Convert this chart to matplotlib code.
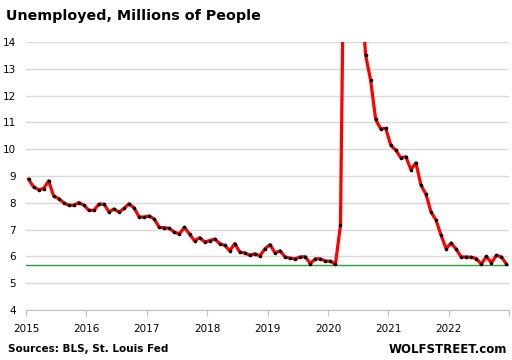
import numpy as np
import pandas as pd
import matplotlib
matplotlib.use("Agg")
import matplotlib.pyplot as plt

# Unemployed, millions, monthly Jan 2015 - Dec 2022
y2015 = [8.88, 8.59, 8.49, 8.53, 8.82, 8.25, 8.16, 8.00, 7.91, 7.91, 8.01, 7.91]
y2016 = [7.72, 7.72, 7.95, 7.95, 7.66, 7.77, 7.65, 7.79, 7.97, 7.80, 7.47, 7.47]
y2017 = [7.51, 7.39, 7.08, 7.07, 7.05, 6.90, 6.84, 7.09, 6.83, 6.58, 6.70, 6.54]
y2018 = [6.59, 6.65, 6.48, 6.41, 6.21, 6.48, 6.16, 6.13, 6.04, 6.10, 6.02, 6.29]
y2019 = [6.44, 6.13, 6.21, 5.98, 5.93, 5.91, 5.98, 5.99, 5.73, 5.91, 5.91, 5.83]
y2020 = [5.82, 5.71, 7.16, 23.08, 20.99, 17.69, 16.29, 13.51, 12.57, 11.11, 10.76, 10.78]
y2021 = [10.15, 9.96, 9.68, 9.72, 9.24, 9.49, 8.66, 8.32, 7.66, 7.35, 6.79, 6.29]
y2022 = [6.50, 6.27, 5.98, 5.98, 5.97, 5.92, 5.71, 6.00, 5.76, 6.04, 5.98, 5.71]
values = y2015 + y2016 + y2017 + y2018 + y2019 + y2020 + y2021 + y2022
ref_level = 5.68
years = list(range(2015, 2023))

# monthly points sit mid-month on a date axis
x = 2015 + (np.arange(len(values)) + 0.5) / 12

fig = plt.figure(figsize=(5.12, 3.6), dpi=100)
ax = fig.add_axes([26/512, 50/360, 483/512, 268/360])

ax.set_ylim(4, 14)
ax.set_xlim(2015, 2023)
ax.set_yticks(range(4, 15))
ax.grid(axis="y", color="#d9d9d9", lw=1)
ax.set_axisbelow(True)
for s in ["top", "right", "left"]:
    ax.spines[s].set_visible(False)
ax.spines["bottom"].set_color("#bfbfbf")

ax.axhline(ref_level, color="#2e9a3e", lw=1, zorder=2)
ax.plot(x, values, color="#ff0000", lw=2.3, zorder=3,
        marker="o", ms=1.6, mfc="black", mec="black")

ax.set_xticks(years + [2023])
ax.set_xticklabels([str(y) for y in years] + [""])
ax.tick_params(axis="x", length=4, color="#bfbfbf", labelsize=7.5, pad=6)
ax.tick_params(axis="y", length=0, labelsize=7.5, pad=7.5)

fig.text(0.012, 0.955, "Unemployed, Millions of People", fontsize=10.3,
         fontweight="bold", va="center", ha="left")
fig.text(0.016, 0.03, "Sources: BLS, St. Louis Fed", fontsize=7.5,
         fontweight="bold", va="center", ha="left")
fig.text(0.99, 0.03, "WOLFSTREET.com", fontsize=8.5,
         fontweight="bold", va="center", ha="right")

fig.savefig("out.png", dpi=100)
